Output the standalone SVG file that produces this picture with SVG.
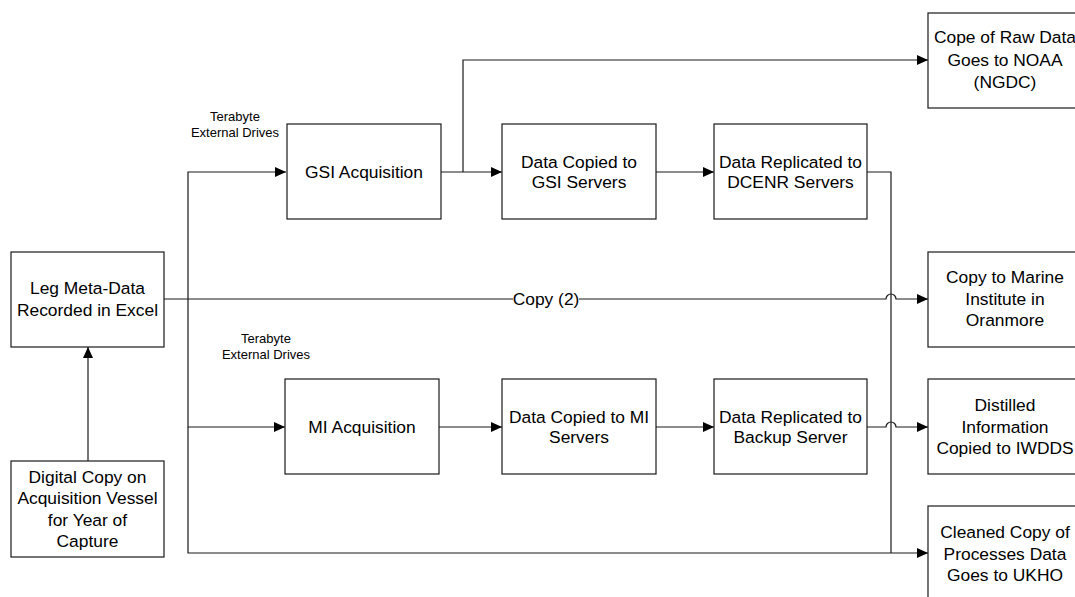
<svg xmlns="http://www.w3.org/2000/svg" width="1075" height="597" viewBox="0 0 1075 597">
<style>
.box{fill:#fff;stroke:#1a1a1a;stroke-width:1.2}
.t{font-family:"Liberation Sans",Arial,sans-serif;font-size:17.4px;fill:#000;text-anchor:middle}
.s{font-family:"Liberation Sans",Arial,sans-serif;font-size:13px;fill:#000;text-anchor:middle}
.c{fill:none;stroke:#1a1a1a;stroke-width:1.2}
</style>
<defs>
<marker id="ar" markerUnits="userSpaceOnUse" markerWidth="11" markerHeight="10" refX="11" refY="5" orient="auto">
<path d="M0,0 L11,5 L0,10 z" fill="#000"/>
</marker>
</defs>
<rect width="1075" height="597" fill="#fff"/>
<g id="connectors">
<path class="c" d="M88,461 V347" marker-end="url(#ar)"/>
<path class="c" d="M164,299 H886 a5,5 0 0 1 10,0 H928" marker-end="url(#ar)"/>
<path class="c" d="M188,299 V172 H286" marker-end="url(#ar)"/>
<path class="c" d="M188,299 V427 H285" marker-end="url(#ar)"/>
<path class="c" d="M188,427 V553 H928" marker-end="url(#ar)"/>
<path class="c" d="M441,172 H502" marker-end="url(#ar)"/>
<path class="c" d="M463,172 V60 H928" marker-end="url(#ar)"/>
<path class="c" d="M656,172 H714" marker-end="url(#ar)"/>
<path class="c" d="M867,172 H891 V553"/>
<path class="c" d="M439,427 H502" marker-end="url(#ar)"/>
<path class="c" d="M656,427 H714" marker-end="url(#ar)"/>
<path class="c" d="M867,427 H886 a5,5 0 0 1 10,0 H928" marker-end="url(#ar)"/>
<rect x="513" y="290" width="66" height="18" fill="#fff"/>
<text class="t" x="546" y="305">Copy (2)</text>
<text class="s" x="235" y="120.5">Terabyte</text>
<text class="s" x="235" y="136.5">External Drives</text>
<text class="s" x="266" y="342.5">Terabyte</text>
<text class="s" x="266" y="358.5">External Drives</text>
</g>
<g id="leg"><rect class="box" x="11" y="252" width="153" height="95"/>
<text class="t" x="87.5" y="294">Leg Meta-Data</text><text class="t" x="87.5" y="316">Recorded in Excel</text></g>
<g id="digital"><rect class="box" x="11" y="461" width="153" height="96"/>
<text class="t" x="87.5" y="483">Digital Copy on</text><text class="t" x="87.5" y="504">Acquisition Vessel</text><text class="t" x="87.5" y="526">for Year of</text><text class="t" x="87.5" y="547">Capture</text></g>
<g id="gsi"><rect class="box" x="287" y="124" width="154" height="95"/>
<text class="t" x="364" y="178">GSI Acquisition</text></g>
<g id="gsiservers"><rect class="box" x="502" y="124" width="154" height="95"/>
<text class="t" x="579" y="168">Data Copied to</text><text class="t" x="579" y="188">GSI Servers</text></g>
<g id="dcenr"><rect class="box" x="714" y="124" width="153" height="95"/>
<text class="t" x="790.5" y="168">Data Replicated to</text><text class="t" x="790.5" y="188">DCENR Servers</text></g>
<g id="noaa"><rect class="box" x="928" y="13" width="154" height="95"/>
<text class="t" x="1005" y="43">Cope of Raw Data</text><text class="t" x="1005" y="65.5">Goes to NOAA</text><text class="t" x="1005" y="88">(NGDC)</text></g>
<g id="marine"><rect class="box" x="928" y="252" width="154" height="95"/>
<text class="t" x="1005" y="283">Copy to Marine</text><text class="t" x="1005" y="304.5">Institute in</text><text class="t" x="1005" y="326">Oranmore</text></g>
<g id="mi"><rect class="box" x="285" y="379" width="154" height="95"/>
<text class="t" x="362" y="433">MI Acquisition</text></g>
<g id="miservers"><rect class="box" x="502" y="379" width="154" height="95"/>
<text class="t" x="579" y="423">Data Copied to MI</text><text class="t" x="579" y="443">Servers</text></g>
<g id="backup"><rect class="box" x="714" y="379" width="153" height="95"/>
<text class="t" x="790.5" y="423">Data Replicated to</text><text class="t" x="790.5" y="443">Backup Server</text></g>
<g id="distilled"><rect class="box" x="928" y="379" width="154" height="95"/>
<text class="t" x="1005" y="411">Distilled</text><text class="t" x="1005" y="433">Information</text><text class="t" x="1005" y="454">Copied to IWDDS</text></g>
<g id="ukho"><rect class="box" x="928" y="506" width="154" height="95"/>
<text class="t" x="1005" y="538">Cleaned Copy of</text><text class="t" x="1005" y="559.5">Processes Data</text><text class="t" x="1005" y="581">Goes to UKHO</text></g>
</svg>
